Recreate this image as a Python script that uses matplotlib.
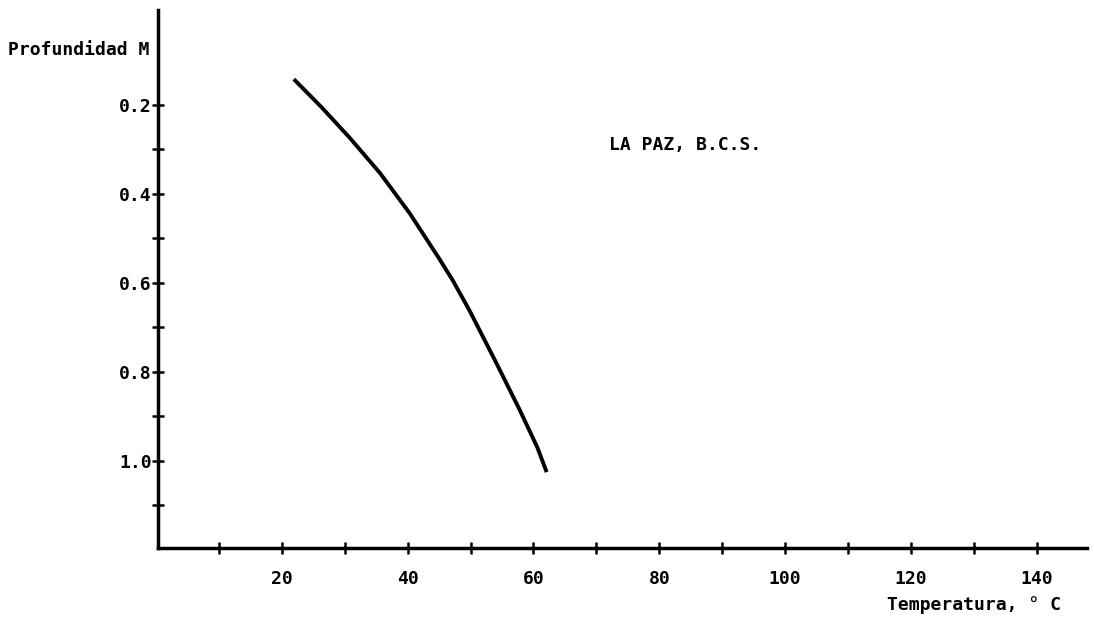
import numpy as np
import matplotlib.pyplot as plt

# curve
temperatura = [21.9, 26.3, 30.8, 35.6, 40.3, 45.0, 47.2, 49.8, 54.1, 57.8, 60.6, 62.1]
profundidad = [0.142, 0.205, 0.274, 0.353, 0.443, 0.545, 0.595, 0.661, 0.780, 0.885, 0.969, 1.025]

x_major = [20, 40, 60, 80, 100, 120, 140]
x_minor = [10, 30, 50, 70, 90, 110, 130]
y_major = [0.2, 0.4, 0.6, 0.8, 1.0]
y_minor = [0.3, 0.5, 0.7, 0.9, 1.1]

font = dict(family='DejaVu Sans Mono', fontweight='bold', fontsize=13)

fig = plt.figure(figsize=(10.94, 6.23), dpi=100)
ax = fig.add_axes([0.1444, 0.1204, 0.9936 - 0.1444, 0.984 - 0.1204])

ax.plot(temperatura, profundidad, color='black', linewidth=2.8,
        solid_capstyle='butt', solid_joinstyle='round')

ax.set_xlim(0.3, 148)
ax.set_ylim(1.1955, -0.0135)

for s in ['top', 'right']:
    ax.spines[s].set_visible(False)
for s in ['left', 'bottom']:
    ax.spines[s].set_linewidth(2.5)

ax.set_xticks(x_major)
ax.set_xticks(x_minor, minor=True)
ax.set_yticks(y_major)
ax.set_yticks(y_minor, minor=True)
ax.set_xticklabels([str(v) for v in x_major], **font)
ax.set_yticklabels(['%.1f' % v for v in y_major], **font)
ax.tick_params(which='both', direction='inout', length=9, width=1.8)
ax.tick_params(axis='x', which='major', pad=11)
ax.tick_params(axis='y', which='major', pad=0)

fig.text(0.007, 0.92, 'Profundidad M', ha='left', va='center', **font)
fig.text(0.811, 0.029, 'Temperatura, ° C', ha='left', va='center', **font)
fig.text(0.557, 0.767, 'LA PAZ, B.C.S.', ha='left', va='center', **font)

fig.savefig('out.png', dpi=100)
